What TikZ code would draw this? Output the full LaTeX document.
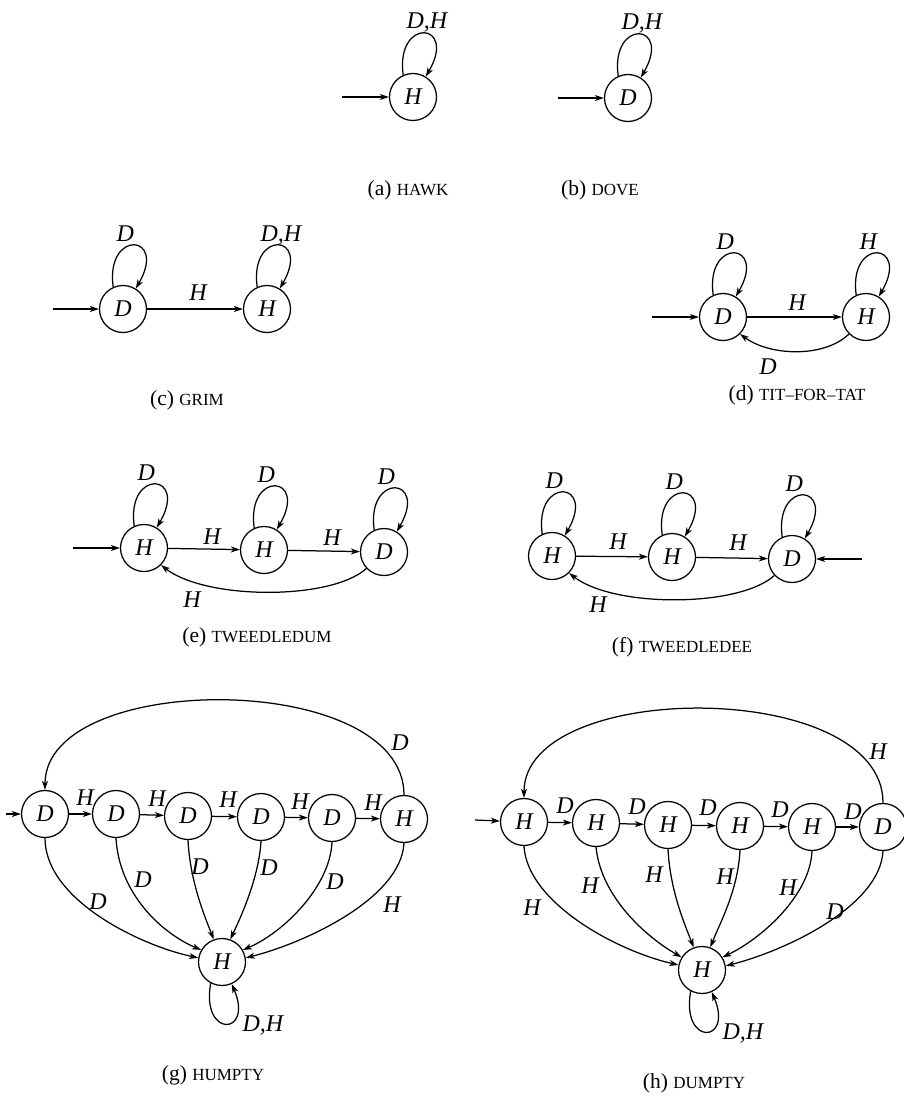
\documentclass[tikz,border=0pt]{standalone}
\usepackage{fontspec}
\setmainfont{Liberation Serif}
\usetikzlibrary{arrows.meta}

% small capitals for the strategy names
\newcommand\capsc[1]{{\fontsize{17}{17}\selectfont #1}}

% self-loop above a state, label above the loop
\newcommand\toploop[2]{%
  \draw[arr] (#1.114) .. controls +(-8,58) and +(32,55) .. (#1.58)
    node[lbl,anchor=base west] at ([shift={(-7,68)}]#1.center) {#2};}

% self-loop below a state, label to its right
\newcommand\botloop[2]{%
  \draw[arr] (#1.242) .. controls +(-10,-55) and +(22,-52) .. (#1.294)
    node[lbl,anchor=base west] at ([shift={(20,-69)}]#1.center) {#2};}

\begin{document}
\begin{tikzpicture}[x=1pt,y=1pt,
  state/.style={circle,draw,line width=1.25pt,minimum size=47pt,inner sep=0pt,
    font=\fontsize{24}{24}\selectfont\itshape},
  lbl/.style={inner sep=0pt,font=\fontsize{24}{24}\selectfont\itshape},
  captxt/.style={inner sep=0pt,font=\fontsize{21.5}{21.5}\selectfont},
  arr/.style={line width=1.25pt,-{Stealth[length=9pt,width=6pt,inset=2.5pt]}}]
\useasboundingbox (0,-1099) rectangle (903,0);

% ---------- (a) hawk ----------
\node[state] (a1) at (413,-97) {H};
\coordinate (ain) at (342,-97);
\draw[arr] (ain) -- (a1);
\toploop{a1}{D,H}
\node[captxt] (capa) at (408,-190) {(a) \capsc{HAWK}};

% ---------- (b) dove ----------
\node[state] (b1) at (628,-98) {D};
\coordinate (bin) at (558,-98);
\draw[arr] (bin) -- (b1);
\toploop{b1}{D,H}
\node[captxt] (capb) at (600,-190) {(b) \capsc{DOVE}};

% ---------- (c) grim ----------
\node[state] (c1) at (123,-309) {D};
\node[state] (c2) at (267,-309) {H};
\coordinate (cin) at (53,-309);
\draw[arr] (cin) -- (c1);
\draw[arr] (c1) -- (c2) node[lbl] at (198,-293) {H};
\toploop{c1}{D}
\toploop{c2}{D,H}
\node[captxt] (capc) at (187,-400) {(c) \capsc{GRIM}};

% ---------- (d) tit-for-tat ----------
\node[state] (d1) at (723,-317) {D};
\node[state] (d2) at (866,-317) {H};
\coordinate (din) at (652,-317);
\draw[arr] (din) -- (d1);
\draw[arr] (d1) -- (d2) node[lbl] at (797,-303) {H};
\draw[arr] (d2.-135) .. controls +(-25,-24) and +(30,-22) .. (d1.-45)
  node[lbl] at (768,-367) {D};
\toploop{d1}{D}
\toploop{d2}{H}
\node[captxt] (capd) at (797,-395) {(d) \capsc{TIT--FOR--TAT}};

% ---------- (e) tweedledum ----------
\node[state] (e1) at (144,-548) {H};
\node[state] (e2) at (264,-550) {H};
\node[state] (e3) at (384,-552) {D};
\coordinate (ein) at (73,-548);
\draw[arr] (ein) -- (e1);
\draw[arr] (e1) -- (e2) node[lbl] at (212,-537) {H};
\draw[arr] (e2) -- (e3) node[lbl] at (332,-538) {H};
\draw[arr] (e3.-137) .. controls +(-35,-32) and +(45,-35) .. (e1.-45)
  node[lbl] at (192,-600) {H};
\toploop{e1}{D}
\toploop{e2}{D}
\toploop{e3}{D}
\node[captxt] (cape) at (257,-637) {(e) \capsc{TWEEDLEDUM}};

% ---------- (f) tweedledee ----------
\node[state] (f1) at (552,-556) {H};
\node[state] (f2) at (672,-557) {H};
\node[state] (f3) at (792,-559) {D};
\coordinate (fin) at (862,-559);
\draw[arr] (fin) -- (f3);
\draw[arr] (f1) -- (f2) node[lbl] at (618,-542) {H};
\draw[arr] (f2) -- (f3) node[lbl] at (738,-543) {H};
\draw[arr] (f3.-137) .. controls +(-35,-32) and +(45,-35) .. (f1.-45)
  node[lbl] at (598,-605) {H};
\toploop{f1}{D}
\toploop{f2}{D}
\toploop{f3}{D}
\node[captxt] (capf) at (682,-647) {(f) \capsc{TWEEDLEDEE}};

% ---------- (g) humpty ----------
\node[state] (g1) at (45,-814) {D};
\node[state] (g2) at (116,-814) {D};
\node[state] (g3) at (188,-816) {D};
\node[state] (g4) at (261,-817) {D};
\node[state] (g5) at (332,-818) {D};
\node[state] (g6) at (404,-819) {H};
\node[state] (g0) at (222,-962) {H};
\coordinate (gin) at (6,-814);
\draw[arr] (gin) -- (g1);
\draw[arr] (g1) -- (g2) node[lbl] at (85,-798) {H};
\draw[arr] (g2) -- (g3) node[lbl] at (157,-799) {H};
\draw[arr] (g3) -- (g4) node[lbl] at (228,-800) {H};
\draw[arr] (g4) -- (g5) node[lbl] at (300,-802) {H};
\draw[arr] (g5) -- (g6) node[lbl] at (373,-803) {H};
\draw[arr] (g6.north) .. controls +(0,125) and +(0,120) .. (g1.north)
  node[lbl] at (400,-743) {D};
\draw[arr] (g1.south) .. controls +(0,-62) and +(-57,12) .. (g0.170)
  node[lbl] at (98,-902) {D};
\draw[arr] (g2.south) .. controls +(3,-55) and +(-40,17) .. (g0.150)
  node[lbl] at (143,-880) {D};
\draw[arr] (g3.south) .. controls +(2,-40) and +(-10,25) .. (g0.110)
  node[lbl] at (200,-867) {D};
\draw[arr] (g4.south) .. controls +(-2,-35) and +(12,25) .. (g0.70)
  node[lbl] at (269,-868) {D};
\draw[arr] (g5.south) .. controls +(-2,-45) and +(40,17) .. (g0.30)
  node[lbl] at (335,-882) {D};
\draw[arr] (g6.south) .. controls +(-3,-55) and +(60,15) .. (g0.10)
  node[lbl] at (392,-905) {H};
\botloop{g0}{D,H}
\node[captxt] (capg) at (213,-1075) {(g) \capsc{HUMPTY}};

% ---------- (h) dumpty ----------
\node[state] (h1) at (524,-822) {H};
\node[state] (h2) at (596,-823) {H};
\node[state] (h3) at (668,-825) {H};
\node[state] (h4) at (740,-826) {H};
\node[state] (h5) at (812,-827) {H};
\node[state] (h6) at (883,-827) {D};
\node[state] (h0) at (702,-970) {H};
\coordinate (hin) at (475,-820);
\draw[arr] (hin) -- (h1);
\draw[arr] (h1) -- (h2) node[lbl] at (565,-806) {D};
\draw[arr] (h2) -- (h3) node[lbl] at (637,-807) {D};
\draw[arr] (h3) -- (h4) node[lbl] at (708,-808) {D};
\draw[arr] (h4) -- (h5) node[lbl] at (780,-810) {D};
\draw[arr] (h5) -- (h6) node[lbl] at (853,-812) {D};
\draw[arr] (h6.north) .. controls +(0,125) and +(0,119) .. (h1.north)
  node[lbl] at (878,-752) {H};
\draw[arr] (h1.south) .. controls +(3,-55) and +(-65,15) .. (h0.168)
  node[lbl] at (532,-908) {H};
\draw[arr] (h2.south) .. controls +(5,-50) and +(-35,20) .. (h0.148)
  node[lbl] at (590,-886) {H};
\draw[arr] (h3.south) .. controls +(2,-40) and +(-10,25) .. (h0.110)
  node[lbl] at (654,-875) {H};
\draw[arr] (h4.south) .. controls +(-2,-40) and +(10,25) .. (h0.70)
  node[lbl] at (725,-877) {H};
\draw[arr] (h5.south) .. controls +(-2,-45) and +(38,18) .. (h0.32)
  node[lbl] at (788,-888) {H};
\draw[arr] (h6.south) .. controls +(-3,-55) and +(60,15) .. (h0.10)
  node[lbl] at (835,-912) {D};
\botloop{h0}{D,H}
\node[captxt] (caph) at (694,-1083) {(h) \capsc{DUMPTY}};
\end{tikzpicture}
\end{document}
